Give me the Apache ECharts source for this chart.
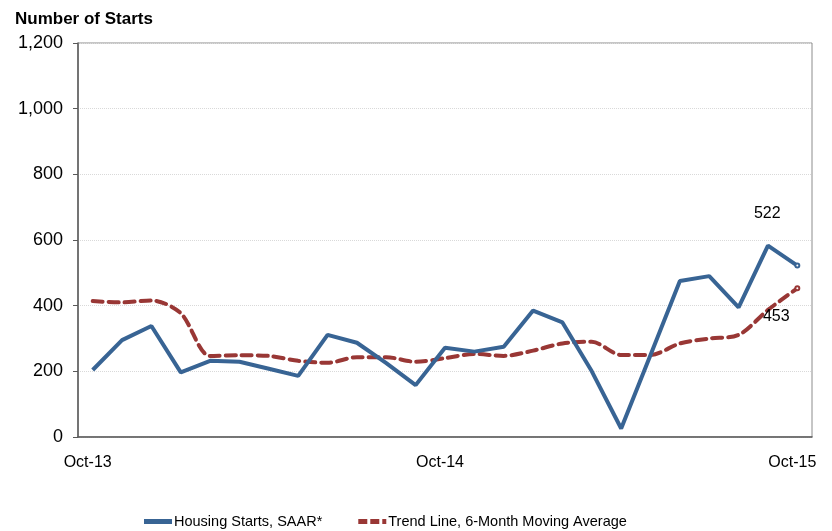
<!DOCTYPE html>
<html>
<head>
<meta charset="utf-8">
<script src="https://cdn.jsdelivr.net/npm/echarts@6/dist/echarts.min.js"></script>
<style>
  html, body { margin: 0; padding: 0; background: #fff; }
  #chart { width: 832px; height: 531px; }
</style>
</head>
<body>
<div id="chart"></div>
<script>
var months = ['Oct-13', 'Nov-13', 'Dec-13', 'Jan-14', 'Feb-14', 'Mar-14', 'Apr-14', 'May-14', 'Jun-14',
    'Jul-14', 'Aug-14', 'Sep-14', 'Oct-14', 'Nov-14', 'Dec-14', 'Jan-15', 'Feb-15', 'Mar-15',
    'Apr-15', 'May-15', 'Jun-15', 'Jul-15', 'Aug-15', 'Sep-15', 'Oct-15'];
var starts = [204, 295, 338, 197, 232, 229, 208, 186, 311, 287, 225, 158, 272,
    260, 275, 385, 349, 200, 26, 250, 475, 490, 395, 583, 522];
var trend = [414, 410, 416, 377, 247, 249, 247, 232, 226, 243, 243, 229, 240,
    253, 247, 263, 285, 290, 250, 250, 285, 300, 311, 387, 453];
var yTicks = [0, 200, 400, 600, 800, 1000, 1200];

var font = "'Liberation Sans', Arial, sans-serif";

// only the last point gets a marker and a value label
function withEndLabel(values, pos, offset) {
    return values.map(function (v, i) {
        if (i < values.length - 1) return v;
        return {
            value: v,
            symbol: 'emptyCircle',
            symbolSize: 4,
            label: {
                show: true,
                position: pos,
                offset: offset,
                formatter: '{c}',
                color: '#000',
                fontSize: 16,
                fontFamily: font
            }
        };
    });
}

var chart = echarts.init(document.getElementById('chart'));
var option = {
    animation: false,
    backgroundColor: '#fff',
    title: {
        text: 'Number of Starts',
        left: 10,
        top: 6,
        textStyle: {fontSize: 17, fontWeight: 'bold', color: '#000', fontFamily: font}
    },
    grid: {
        left: 78,
        right: 20,
        top: 43,
        bottom: 94,
        show: true,
        borderColor: '#8c8c8c',
        borderWidth: 1
    },
    legend: {
        left: 139,
        top: 509,
        itemWidth: 28,
        itemHeight: 5,
        itemGap: 36,
        textStyle: {fontSize: 14.5, color: '#000', fontFamily: font, padding: [0, 0, 0, -3]},
        data: [
            {name: 'Housing Starts, SAAR*', icon: 'rect'},
            {name: 'Trend Line, 6-Month Moving Average',
             icon: 'path://M0,0h9v5h-9z M12,0h9v5h-9z M24,0h4v5h-4z'}
        ]
    },
    xAxis: {
        type: 'category',
        data: months,
        boundaryGap: true,
        axisLine: {lineStyle: {color: '#595959', width: 1.5}},
        axisTick: {
            length: 6,
            lineStyle: {color: '#595959'},
            interval: function (i) { return i % 12 === 0; }
        },
        axisLabel: {
            interval: function (i) { return i % 12 === 0; },
            margin: 18,
            padding: [0, 10, 0, 0],
            color: '#000',
            fontSize: 16,
            fontFamily: font
        },
        splitLine: {show: false}
    },
    yAxis: {
        type: 'value',
        min: yTicks[0],
        max: yTicks[yTicks.length - 1],
        interval: 200,
        axisLine: {show: true, lineStyle: {color: '#595959', width: 1.5}},
        axisTick: {show: true, length: 5, lineStyle: {color: '#595959'}},
        axisLabel: {
            margin: 15,
            color: '#000',
            fontSize: 18,
            fontFamily: font,
            formatter: function (v) { return v.toLocaleString('en-US'); }
        },
        splitLine: {lineStyle: {color: '#d9d9d9', type: 'dotted'}}
    },
    series: [
        {
            name: 'Housing Starts, SAAR*',
            type: 'line',
            data: withEndLabel(starts, 'top', [-30, -36]),
            symbol: 'none',
            lineStyle: {color: '#386494', width: 4},
            itemStyle: {color: '#386494', borderColor: '#4a9bd0'},
            z: 3
        },
        {
            name: 'Trend Line, 6-Month Moving Average',
            type: 'line',
            data: withEndLabel(trend, 'bottom', [-21, 12]),
            symbol: 'none',
            smooth: 0.3,
            lineStyle: {color: '#993735', width: 4, type: [10, 6], cap: 'round'},
            itemStyle: {color: '#993735'},
            z: 2
        }
    ]
};
chart.setOption(option);
</script>
</body>
</html>
